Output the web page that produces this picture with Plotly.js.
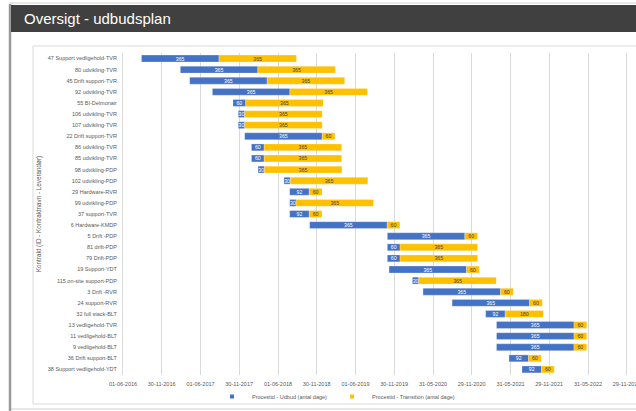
<!DOCTYPE html>
<html>
<head>
<meta charset="utf-8">
<script src="https://cdn.plot.ly/plotly-3.0.1.min.js"></script>
<style>
  html, body { margin: 0; padding: 0; background: #ffffff; overflow: hidden; }
  #chart { width: 636px; height: 411px; }
</style>
</head>
<body>
<div id="chart"></div>
<script>
const categories = [
  '47 Support vedligehold-TVR',
  '80 udvikling-TVR',
  '45 Drift support-TVR',
  '92 udvikling-TVR',
  '55 BI-Delmonair',
  '106 udvikling-TVR',
  '107 udvikling-TVR',
  '22 Drift support-TVR',
  '86 udvikling-TVR',
  '85 udvikling-TVR',
  '98 udvikling-PDP',
  '102 udvikling-PDP',
  '29 Hardware-RVR',
  '99 udvikling-PDP',
  '37 support-TVR',
  '6 Hardware-KMDP',
  '5 Drift -PDP',
  '81 drift-PDP',
  '79 Drift-PDP',
  '19 Support-YDT',
  '115 on-site support-PDP',
  '3 Drift -RVR',
  '24 support-RVR',
  '32 full stack-BLT',
  '13 vedligehold-TVR',
  '11 vedligehold-BLT',
  '9 vedligehold-BLT',
  '36 Drift support-BLT',
  '38 Support vedligehold-YDT'
];

const startDates = [
  '2016-08-27', '2017-02-26', '2017-04-11', '2017-07-27', '2017-11-01',
  '2017-11-26', '2017-11-26', '2017-12-26', '2018-01-27', '2018-01-27',
  '2018-02-27', '2018-06-29', '2018-07-26', '2018-07-26', '2018-07-26',
  '2018-10-28', '2019-10-29', '2019-10-29', '2019-10-29', '2019-11-06',
  '2020-02-24', '2020-04-14', '2020-08-29', '2021-02-03', '2021-03-26',
  '2021-03-26', '2021-03-26', '2021-05-24', '2021-07-24'
];

const udbudDays = [
  365, 365, 365, 365, 60,
  30, 30, 365, 60, 60,
  30, 30, 92, 30, 92,
  365, 365, 60, 60, 365,
  30, 365, 365, 92, 365,
  365, 365, 92, 92
];

const transitionDays = [
  365, 365, 365, 365, 365,
  365, 365, 60, 365, 365,
  365, 365, 60, 365, 60,
  60, 60, 365, 365, 60,
  365, 60, 60, 180, 60,
  60, 60, 60, 60
];

const tickLabels = [
  '01-06-2016', '30-11-2016', '01-06-2017', '30-11-2017', '01-06-2018',
  '30-11-2018', '01-06-2019', '30-11-2019', '31-05-2020', '29-11-2020',
  '31-05-2021', '29-11-2021', '31-05-2022', '29-11-2022'
];

const seriesNames = ['Procestid - Udbud (antal dage)', 'Procestid - Transition (antal dage)'];
const seriesColors = ['#4472C4', '#FFC000'];

const DAY = 86400000;
const tickVals = tickLabels.map(s => s.split('-').reverse().join('-'));
const addDays = (d, n) => new Date(new Date(d + 'T00:00:00Z').getTime() + n * DAY).toISOString().slice(0, 10);
const transitionBase = startDates.map((d, i) => addDays(d, udbudDays[i]));

const FONT = 'Liberation Sans, Arial, sans-serif';
const GREY = '#595959';

const barCommon = {
  type: 'bar',
  orientation: 'h',
  y: categories,
  textposition: 'inside',
  insidetextanchor: 'middle',
  textangle: 0,
  constraintext: 'none',
  cliponaxis: false,
  hoverinfo: 'skip',
  showlegend: false
};

const traces = [
  Object.assign({}, barCommon, {
    name: seriesNames[0],
    x: udbudDays.map(d => d * DAY),
    base: startDates,
    text: udbudDays.map(String),
    marker: { color: seriesColors[0], line: { color: 'rgba(255,255,255,0.5)', width: 0.5 } },
    textfont: { family: FONT, size: 5.2, color: '#ffffff' }
  }),
  Object.assign({}, barCommon, {
    name: seriesNames[1],
    x: transitionDays.map(d => d * DAY),
    base: transitionBase,
    text: transitionDays.map(String),
    marker: { color: seriesColors[1], line: { color: 'rgba(255,255,255,0.5)', width: 0.5 } },
    textfont: { family: FONT, size: 5.2, color: '#404040' }
  }),
  {
    type: 'scatter', mode: 'markers', name: seriesNames[0],
    x: [null], y: [null],
    marker: { symbol: 'square', size: 4, color: seriesColors[0] },
    hoverinfo: 'skip', showlegend: true
  },
  {
    type: 'scatter', mode: 'markers', name: seriesNames[1],
    x: [null], y: [null],
    marker: { symbol: 'square', size: 4, color: seriesColors[1] },
    hoverinfo: 'skip', showlegend: true
  }
];

const L = 123, R = 636, T = 53, B = 375;
const W = R - L, H = B - T;
const px = v => (v - L) / W;
const py = v => (B - v) / H;

const layout = {
  width: 636,
  height: 411,
  margin: { l: L, r: 0, t: T, b: 411 - B, pad: 0 },
  paper_bgcolor: '#ffffff',
  plot_bgcolor: 'rgba(0,0,0,0)',
  font: { family: FONT, color: GREY, size: 5.5 },
  barmode: 'overlay',
  bargap: 0.38,
  title: {
    text: 'Oversigt - udbudsplan',
    font: { family: FONT, size: 15, color: '#ffffff' },
    xref: 'container', yref: 'container',
    x: 24 / 636, xanchor: 'left',
    y: 1 - 19 / 411, yanchor: 'middle'
  },
  xaxis: {
    type: 'date',
    range: ['2016-06-01', '2023-01-12'],
    tickvals: tickVals,
    ticktext: tickLabels,
    tickangle: 0,
    ticklabeloverflow: 'allow',
    showgrid: true,
    gridcolor: '#d9d9d9',
    gridwidth: 1,
    zeroline: false,
    showline: false,
    ticks: '',
    ticklabelstandoff: 4,
    tickfont: { family: FONT, size: 5.5, color: GREY },
    fixedrange: true
  },
  yaxis: {
    type: 'category',
    categoryorder: 'array',
    categoryarray: categories,
    autorange: 'reversed',
    showgrid: false,
    showline: true,
    linecolor: '#d9d9d9',
    linewidth: 1,
    ticks: '',
    ticklabelstandoff: 4,
    tickfont: { family: FONT, size: 5.5, color: GREY },
    title: {
      text: 'Kontrakt (ID - Kontraktnavn - Leverandør)',
      font: { family: FONT, size: 6.3, color: GREY },
      standoff: 5
    },
    automargin: false,
    fixedrange: true
  },
  legend: {
    orientation: 'h',
    x: px(336), xanchor: 'center',
    y: py(397), yanchor: 'middle',
    font: { family: FONT, size: 5.5, color: GREY },
    itemwidth: 30,
    bgcolor: 'rgba(0,0,0,0)'
  },
  shapes: [
    { type: 'rect', layer: 'below', xref: 'paper', yref: 'paper',
      x0: px(10), x1: px(720), y0: py(409), y1: py(3),
      line: { color: '#d0d0d0', width: 1 }, fillcolor: '#ffffff' },
    { type: 'line', layer: 'below', xref: 'paper', yref: 'paper',
      x0: px(10), x1: px(10), y0: py(411), y1: py(4),
      line: { color: '#9a9a9a', width: 2.5 } },
    { type: 'rect', layer: 'below', xref: 'paper', yref: 'paper',
      x0: px(11), x1: px(720), y0: py(32), y1: py(5),
      line: { width: 0 }, fillcolor: '#404040' },
    { type: 'rect', layer: 'below', xref: 'paper', yref: 'paper',
      x0: px(33), x1: px(720), y0: py(404), y1: py(46),
      line: { color: '#d9d9d9', width: 1 }, fillcolor: 'rgba(0,0,0,0)' }
  ]
};

Plotly.newPlot('chart', traces, layout, { displayModeBar: false, staticPlot: true });
</script>
</body>
</html>
